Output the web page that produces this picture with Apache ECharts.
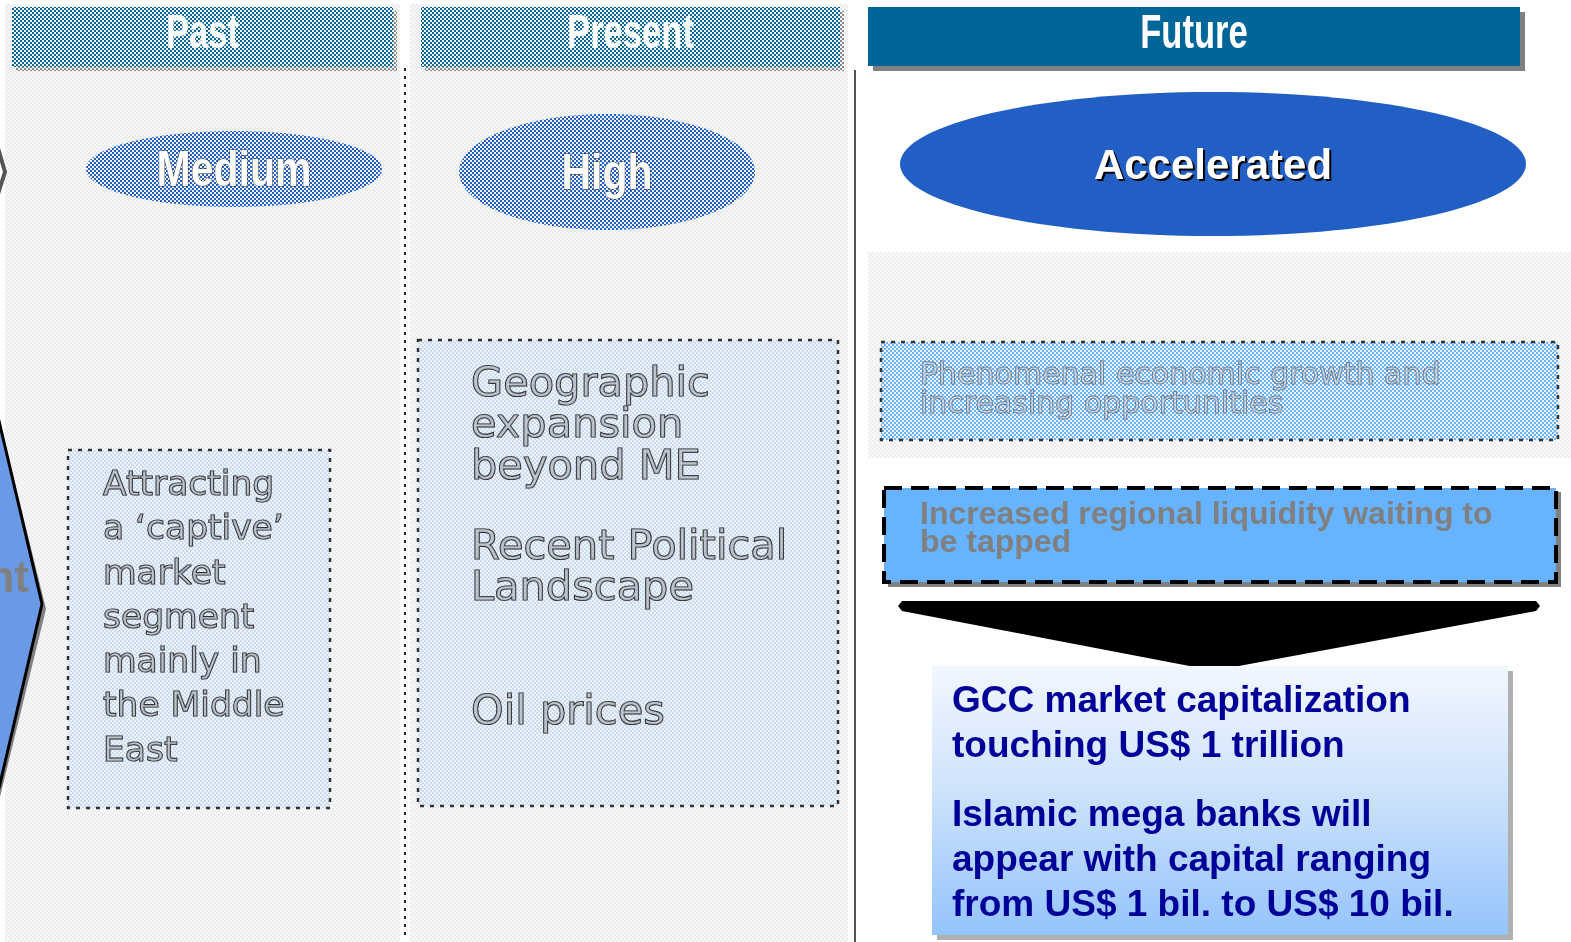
<!DOCTYPE html>
<html>
<head>
<meta charset="utf-8">
<title>Past / Present / Future</title>
<script src="https://cdn.jsdelivr.net/npm/echarts@6/dist/echarts.min.js"></script>
<style>
  html, body { margin: 0; padding: 0; background: #fff; }
  #main { width: 1571px; height: 942px; }
</style>
</head>
<body>
<div id="main"></div>
<script>
// texts of the slide
const phases = ["Past", "Present", "Future"];
const levels = ["Medium", "High", "Accelerated"];
const pastDrivers = ["Attracting", "a \u2018captive\u2019", "market", "segment", "mainly in", "the Middle", "East"];
const presentDrivers = [["Geographic", "expansion", "beyond ME"], ["Recent Political", "Landscape"], ["Oil prices"]];
const futureDrivers = [["Phenomenal economic growth and", "increasing opportunities"], ["Increased regional liquidity waiting to", "be tapped"]];
const outcomes = [["GCC market capitalization", "touching US$ 1 trillion"], ["Islamic mega banks will", "appear with capital ranging", "from US$ 1 bil. to US$ 10 bil."]];
const sideLabel = "nt";

// dithered (half transparent) fills of the original slide
const checker = (a, b) => {
  const c = document.createElement("canvas");
  c.width = 4;
  c.height = 4;
  const g = c.getContext("2d");
  g.fillStyle = b;
  g.fillRect(0, 0, 4, 4);
  g.fillStyle = a;
  g.fillRect(0, 0, 2, 2);
  g.fillRect(2, 2, 2, 2);
  return { image: c, repeat: "repeat" };
};

const SANS = "'Liberation Sans', Arial, sans-serif";
const WIDE = "'DejaVu Sans', Verdana, sans-serif";

const els = [];
const rect = (x, y, w, h, style, z) => els.push({ type: "rect", shape: { x, y, width: w, height: h }, style, z: z || 1 });
const text = (x, y, t, style, z, extra) =>
  els.push(Object.assign({ type: "text", x, y, style: Object.assign({ text: t, textVerticalAlign: "middle" }, style), z: z || 5 }, extra || {}));

// column backgrounds
rect(5, 4, 395, 938, { fill: checker("#ececec", "#f8f8f8") }, 0);
rect(410, 4, 438, 938, { fill: checker("#ececec", "#f8f8f8") }, 0);
rect(868, 252, 703, 206, { fill: checker("#eeeeee", "#f9f9f9") }, 0);

// column separators
els.push({ type: "line", shape: { x1: 405, y1: 68, x2: 405, y2: 940 }, style: { stroke: "#222", lineWidth: 2, lineDash: [3, 5] }, z: 2 });
els.push({ type: "line", shape: { x1: 855, y1: 70, x2: 855, y2: 942 }, style: { stroke: "#555", lineWidth: 2 }, z: 2 });

// headers
const headers = [
  { x: 12, w: 381, fade: true },
  { x: 421, w: 419, fade: true },
  { x: 868, w: 652, fade: false }
];
headers.forEach((h, i) => {
  if (h.fade) {
    rect(h.x + 4, 11, h.w, 60, { fill: checker("#888888", "#f4f4f4") }, 1);
    rect(h.x, 7, h.w, 60, { fill: checker("#006699", "#f4f4f4") }, 2);
  } else {
    rect(h.x + 5, 12, h.w, 59, { fill: "#808080" }, 1);
    rect(h.x, 7, h.w, 59, { fill: "#006699" }, 2);
  }
  text(0, 0, phases[i], { fill: "#fff", font: "bold 48px " + SANS, textAlign: "center" }, 5,
    { x: h.x + h.w / 2, y: 35, scaleX: 0.72 });
});

// level ellipses
const ovals = [
  { cx: 234, cy: 169, rx: 148, ry: 38, fade: true },
  { cx: 607, cy: 172, rx: 148, ry: 58, fade: true },
  { cx: 1213, cy: 164, rx: 313, ry: 72, fade: false }
];
ovals.forEach((o, i) => {
  els.push({
    type: "ellipse", shape: { cx: o.cx, cy: o.cy, rx: o.rx, ry: o.ry },
    style: { fill: o.fade ? checker("#2060c4", "#f4f4f4") : "#215fc4" }, z: 2
  });
  if (o.fade) {
    text(0, 0, levels[i], { fill: "#fff", stroke: "#333", lineWidth: 1, font: "bold 50px " + SANS, textAlign: "center" }, 5,
      { x: o.cx, y: o.cy + 3, scaleX: 0.82 });
  } else {
    text(0, 0, levels[i], { fill: "#000", font: "bold 42px " + SANS, textAlign: "center" }, 4, { x: o.cx + 2, y: o.cy + 5 });
    text(0, 0, levels[i], { fill: "#fff", font: "bold 42px " + SANS, textAlign: "center" }, 5, { x: o.cx, y: o.cy + 3 });
  }
});

// side chevrons (cut by the slide edge)
els.push({ type: "polyline", shape: { points: [[-2, 148], [5, 172], [-2, 194]] }, style: { stroke: "#555", lineWidth: 4, fill: null }, z: 2 });
els.push({ type: "polygon", shape: { points: [[-40, 260], [46, 609], [-40, 960]] }, style: { fill: "#808080" }, z: 1 });
els.push({ type: "polygon", shape: { points: [[-40, 255], [42, 604], [-40, 955]] }, style: { fill: "#6a9ae6", stroke: "#000", lineWidth: 3 }, z: 2 });
text(0, 580, sideLabel, { fill: "#808080", font: "bold 44px " + SANS, textAlign: "right" }, 5, { x: 29 });

// faded driver boxes
const faintText = { fill: "rgba(160,165,175,0.55)", stroke: "#1a1a1a", lineWidth: 1.2 };
rect(68, 450, 262, 358, { fill: checker("#c6dcf7", "#f2f2f2"), stroke: "#333", lineWidth: 2.5, lineDash: [4, 6] }, 2);
pastDrivers.forEach((t, i) => {
  text(103, 486 + i * 44.3, t, Object.assign({ font: "34.5px " + WIDE, textAlign: "left" }, faintText));
});

rect(418, 340, 420, 466, { fill: checker("#c6dcf7", "#f2f2f2"), stroke: "#333", lineWidth: 2.5, lineDash: [4, 6] }, 2);
const presentTop = [385, 548, 713];
presentDrivers.forEach((g, gi) => {
  g.forEach((t, i) => {
    text(471, presentTop[gi] + i * 41.5, t, Object.assign({ font: "41.5px " + WIDE, textAlign: "left" }, faintText));
  });
});

rect(881, 342, 677, 98, { fill: checker("#66b3ff", "#f2f2f2"), stroke: "#333", lineWidth: 2.5, lineDash: [4, 6] }, 2);
futureDrivers[0].forEach((t, i) => {
  text(920, 376 + i * 29, t, { font: "30px " + WIDE, textAlign: "left", fill: "rgba(200,215,235,0.5)", stroke: "rgba(80,80,80,0.85)", lineWidth: 1 });
});

// liquidity box
rect(888, 492, 673, 95, { fill: "#808080" }, 1);
rect(884, 488, 672, 94, { fill: "#66b3ff", stroke: "#000", lineWidth: 4, lineDash: [18, 9] }, 2);
futureDrivers[1].forEach((t, i) => {
  text(920, 515 + i * 28, t, { font: "bold 32px " + SANS, textAlign: "left", fill: "#808080" });
});

// funnel
els.push({
  type: "polygon",
  shape: { points: [[902, 601], [1536, 601], [1540, 606], [1536, 611], [1228, 668], [1200, 668], [902, 611], [898, 606]] },
  style: { fill: "#000" }, z: 2
});

// outcome box
rect(937, 671, 576, 269, { fill: "#b0b0b0" }, 2);
rect(932, 666, 576, 269, {
  fill: {
    type: "linear", x: 0, y: 0, x2: 0, y2: 1,
    colorStops: [{ offset: 0, color: "#f2f7ff" }, { offset: 0.45, color: "#cfe3fb" }, { offset: 1, color: "#94c4fd" }]
  }
}, 3);
const outcomeTop = [702, 816];
outcomes.forEach((g, gi) => {
  g.forEach((t, i) => {
    text(952, outcomeTop[gi] + i * 45, t, { font: "bold 37px " + SANS, textAlign: "left", fill: "#000099" }, 6);
  });
});

const chart = echarts.init(document.getElementById("main"));
chart.setOption({
  animation: false,
  graphic: { elements: els }
});
</script>
</body>
</html>
